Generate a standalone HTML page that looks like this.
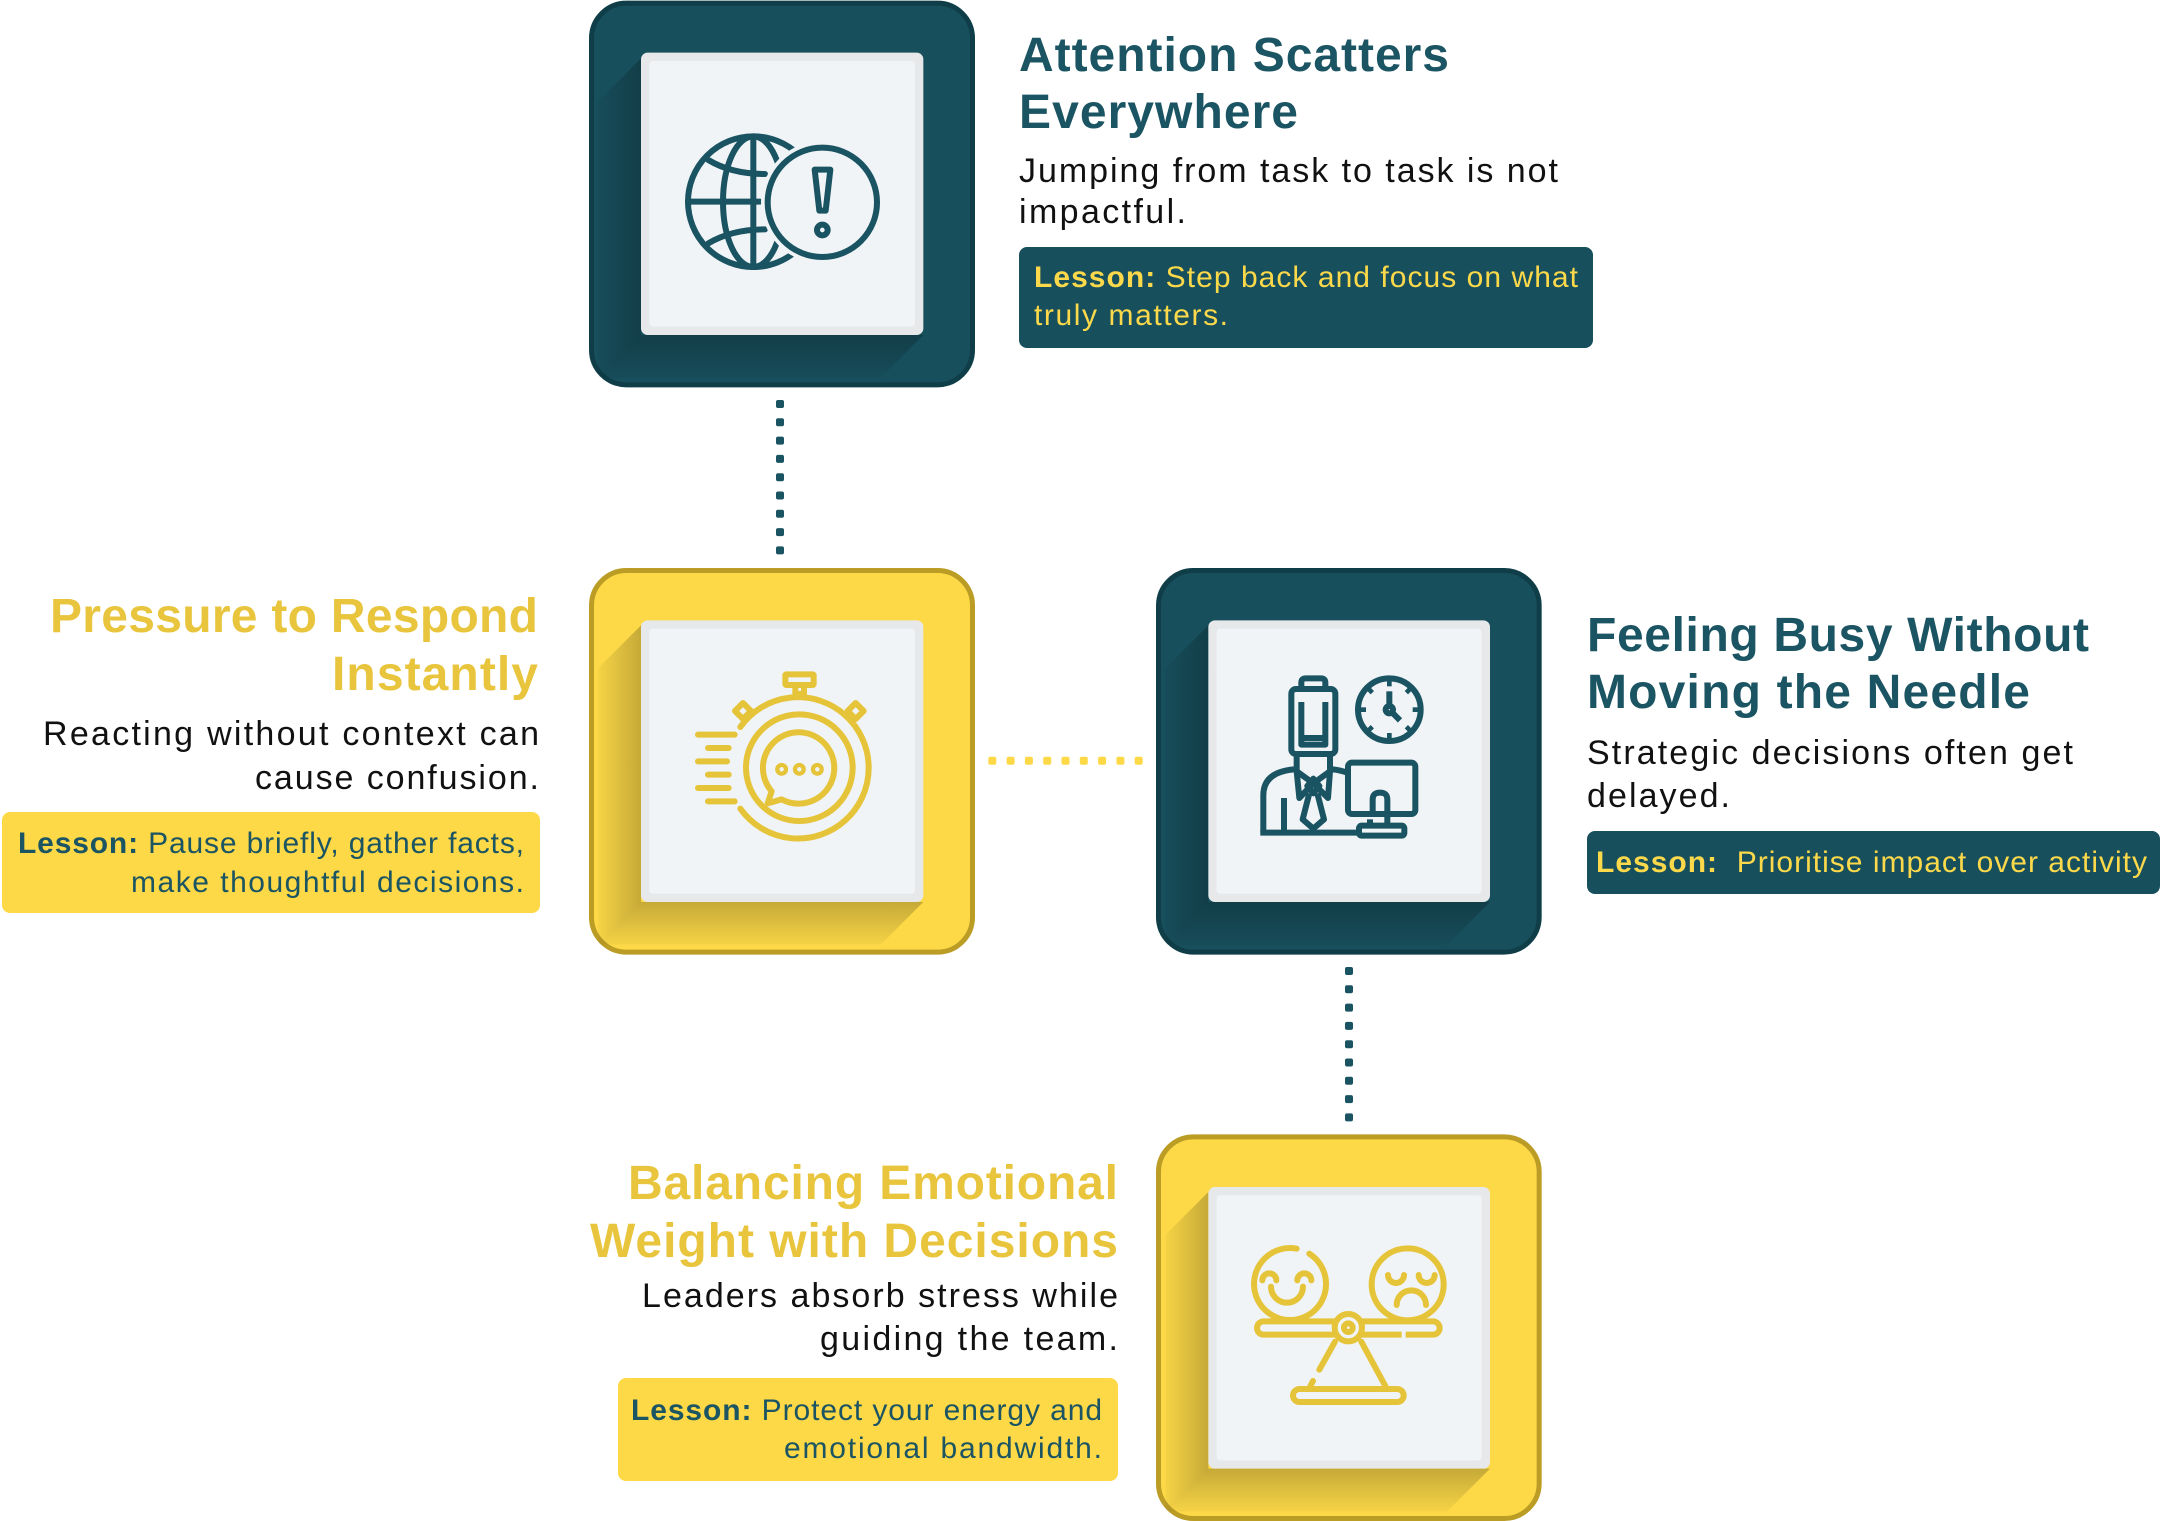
<!DOCTYPE html>
<html>
<head>
<meta charset="utf-8">
<style>
  html, body { margin:0; padding:0; background:#ffffff; }
  body { width:2162px; height:1521px; overflow:hidden; position:relative; }
  svg { display:block; }
</style>
</head>
<body>
<svg xmlns="http://www.w3.org/2000/svg" width="2162" height="1521" viewBox="0 0 2162 1521">
  <defs>
    <linearGradient id="gL" x1="0" y1="0" x2="1" y2="0">
      <stop offset="0" stop-color="#000" stop-opacity="0.03"/>
      <stop offset="1" stop-color="#000" stop-opacity="0.22"/>
    </linearGradient>
    <linearGradient id="gB" x1="0" y1="0" x2="0" y2="1">
      <stop offset="0" stop-color="#000" stop-opacity="0.22"/>
      <stop offset="1" stop-color="#000" stop-opacity="0.03"/>
    </linearGradient>
  </defs>
  <rect x="0" y="0" width="2162" height="1521" fill="#ffffff"/>

  <!-- ===== Connectors ===== -->
  <g fill="#1a5361">
    <rect x="776" y="400" width="8" height="8" rx="2"/>
    <rect x="776" y="418.3" width="8" height="8" rx="2"/>
    <rect x="776" y="436.6" width="8" height="8" rx="2"/>
    <rect x="776" y="454.9" width="8" height="8" rx="2"/>
    <rect x="776" y="473.2" width="8" height="8" rx="2"/>
    <rect x="776" y="491.5" width="8" height="8" rx="2"/>
    <rect x="776" y="509.8" width="8" height="8" rx="2"/>
    <rect x="776" y="528.1" width="8" height="8" rx="2"/>
    <rect x="776" y="546.4" width="8" height="8" rx="2"/>

    <rect x="1345" y="967" width="8" height="8" rx="2"/>
    <rect x="1345" y="985.3" width="8" height="8" rx="2"/>
    <rect x="1345" y="1003.6" width="8" height="8" rx="2"/>
    <rect x="1345" y="1021.9" width="8" height="8" rx="2"/>
    <rect x="1345" y="1040.2" width="8" height="8" rx="2"/>
    <rect x="1345" y="1058.5" width="8" height="8" rx="2"/>
    <rect x="1345" y="1076.8" width="8" height="8" rx="2"/>
    <rect x="1345" y="1095.1" width="8" height="8" rx="2"/>
    <rect x="1345" y="1113.4" width="8" height="8" rx="2"/>
  </g>
  <g fill="#fdd947">
    <rect x="988.3" y="756.7" width="8" height="8" rx="2"/>
    <rect x="1006.6" y="756.7" width="8" height="8" rx="2"/>
    <rect x="1024.9" y="756.7" width="8" height="8" rx="2"/>
    <rect x="1043.2" y="756.7" width="8" height="8" rx="2"/>
    <rect x="1061.5" y="756.7" width="8" height="8" rx="2"/>
    <rect x="1079.8" y="756.7" width="8" height="8" rx="2"/>
    <rect x="1098.1" y="756.7" width="8" height="8" rx="2"/>
    <rect x="1116.4" y="756.7" width="8" height="8" rx="2"/>
    <rect x="1134.7" y="756.7" width="8" height="8" rx="2"/>
  </g>

  <!-- ===== Box 1 : Globe (teal) ===== -->
  <svg x="585" y="0" width="400" height="400" viewBox="0 0 1200 1200">
    <rect x="19.5" y="9.5" width="1143" height="1145" rx="105" fill="#174f5c" stroke="#0f3e48" stroke-width="15"/>
    <polygon points="168,175 40,303 40,1133 168,1005" fill="url(#gL)"/>
    <polygon points="168,1005 40,1133 887,1133 1015,1005" fill="url(#gB)"/>
    <rect x="168" y="158" width="847" height="847" rx="20" fill="#e6e8ea"/>
    <rect x="193" y="183" width="797" height="797" rx="10" fill="#f0f4f7"/>
    <g fill="none" stroke="#1a5361" stroke-width="18" stroke-linecap="round" stroke-linejoin="round">
      <circle cx="505" cy="605" r="196"/>
      <ellipse cx="505" cy="605" rx="91" ry="196"/>
      <line x1="505" y1="409" x2="505" y2="801"/>
      <line x1="309" y1="605" x2="525" y2="605"/>
      <path d="M370,480 Q440,522 540,522"/>
      <path d="M370,730 Q440,688 540,688"/>
      <circle cx="712" cy="607" r="164" fill="#f0f4f7" stroke="#f0f4f7" stroke-width="40"/>
      <circle cx="712" cy="607" r="164"/>
      <polygon points="689,509 736,509 722,632 703,632"/>
      <circle cx="712" cy="690" r="16"/>
    </g>
  </svg>

  <!-- ===== Box 2 : Stopwatch (yellow) ===== -->
  <svg x="585" y="562" width="400" height="400" viewBox="0 0 1200 1200">
    <rect x="19.5" y="25.5" width="1143" height="1145" rx="105" fill="#fdd947" stroke="#bb9c25" stroke-width="15"/>
    <polygon points="168,190 40,318 40,1148 168,1020" fill="url(#gL)"/>
    <polygon points="168,1020 40,1148 887,1148 1015,1020" fill="url(#gB)"/>
    <rect x="168" y="175" width="847" height="845" rx="20" fill="#e6e8ea"/>
    <rect x="193" y="200" width="797" height="795" rx="10" fill="#f0f4f7"/>
    <g fill="none" stroke="#e6c43a" stroke-width="18" stroke-linecap="round" stroke-linejoin="round">
      <rect x="601" y="337" width="85" height="32" rx="3"/>
      <rect x="631" y="369" width="26" height="27"/>
      <path d="M466,495 A212,212 0 1 1 466,740"/>
      <circle cx="643" cy="617" r="160"/>
      <path d="M560,688 A107,107 0 1 1 590,712 L548,724 Z"/>
      <rect x="457" y="430" width="34" height="34" transform="rotate(45 474 447)"/>
      <rect x="795" y="430" width="34" height="34" transform="rotate(45 812 447)"/>
      <line x1="339" y1="518" x2="449" y2="518"/>
      <line x1="369" y1="558" x2="431" y2="558"/>
      <line x1="339" y1="598" x2="426" y2="598"/>
      <line x1="369" y1="638" x2="431" y2="638"/>
      <line x1="339" y1="678" x2="431" y2="678"/>
      <line x1="369" y1="718" x2="449" y2="718"/>
    </g>
    <g fill="none" stroke="#e6c43a" stroke-width="13">
      <circle cx="590" cy="622" r="13"/>
      <circle cx="643" cy="622" r="13"/>
      <circle cx="697" cy="622" r="13"/>
    </g>
  </svg>

  <!-- ===== Box 3 : Person (teal) ===== -->
  <svg x="1150" y="562" width="400" height="400" viewBox="0 0 1200 1200">
    <rect x="25.5" y="25.5" width="1142" height="1145" rx="105" fill="#174f5c" stroke="#0f3e48" stroke-width="15"/>
    <polygon points="175,190 47,318 47,1148 175,1020" fill="url(#gL)"/>
    <polygon points="175,1020 47,1148 892,1148 1020,1020" fill="url(#gB)"/>
    <rect x="175" y="175" width="845" height="845" rx="20" fill="#e6e8ea"/>
    <rect x="200" y="200" width="795" height="795" rx="10" fill="#f0f4f7"/>
    <g fill="none" stroke="#1a5361" stroke-width="18" stroke-linejoin="round">
      <rect x="424" y="381" width="132" height="195" rx="14"/>
      <path d="M454,381 V362 Q454,349 467,349 H513 Q526,349 526,362 V381"/>
      <path d="M454,420 V548 H526 V420"/>
      <line x1="454" y1="528" x2="526" y2="528"/>
      <path d="M440,576 V628 L448,708 L490,664"/>
      <path d="M540,576 V628 L534,708 L490,664"/>
      <path d="M440,628 L490,664 L540,628"/>
      <path d="M490,650 L508,672 L490,694 L472,672 Z"/>
      <path d="M478,694 L458,772 L490,800 L522,772 L502,694"/>
      <path d="M340,812 V700 Q340,630 432,622"/>
      <path d="M548,622 Q570,624 592,632"/>
      <line x1="402" y1="708" x2="402" y2="805"/>
      <line x1="331" y1="812" x2="622" y2="812"/>
      <rect x="594" y="602" width="202" height="154" rx="12" fill="#f0f4f7"/>
      <path d="M668,756 V712 Q668,692 690,692 Q712,692 712,712 V790"/>
      <line x1="660" y1="772" x2="660" y2="790"/>
      <rect x="627" y="791" width="136" height="30" rx="8"/>
      <circle cx="718" cy="443" r="94"/>
      <path d="M718,388 V432"/>
      <path d="M727,452 L750,475"/>
      <circle cx="718" cy="443" r="11"/>
    </g>
    <g stroke="#1a5361" stroke-width="14">
      <line x1="718" y1="357" x2="718" y2="373"/>
      <line x1="718" y1="513" x2="718" y2="529"/>
      <line x1="632" y1="443" x2="648" y2="443"/>
      <line x1="788" y1="443" x2="804" y2="443"/>
      <line x1="667" y1="392" x2="657" y2="382"/>
      <line x1="769" y1="392" x2="779" y2="382"/>
      <line x1="667" y1="494" x2="657" y2="504"/>
      <line x1="769" y1="494" x2="779" y2="504"/>
    </g>
  </svg>

  <!-- ===== Box 4 : Scale (yellow) ===== -->
  <svg x="1150" y="1121" width="400" height="400" viewBox="0 0 1200 1200">
    <rect x="25.5" y="47.5" width="1142" height="1145" rx="105" fill="#fdd947" stroke="#bb9c25" stroke-width="15"/>
    <polygon points="175,213 47,341 47,1171 175,1043" fill="url(#gL)"/>
    <polygon points="175,1043 47,1171 892,1171 1020,1043" fill="url(#gB)"/>
    <rect x="175" y="198" width="845" height="845" rx="20" fill="#e6e8ea"/>
    <rect x="200" y="223" width="795" height="795" rx="10" fill="#f0f4f7"/>
    <g fill="none" stroke="#e6c43a" stroke-width="18" stroke-linecap="round" stroke-linejoin="round">
      <path d="M440,383 A108,108 0 1 0 478,398"/>
      <path d="M337,478 A21,21 0 0 1 379,478"/>
      <path d="M442,478 A21,21 0 0 1 484,478"/>
      <path d="M363,497 A48,48 0 0 0 459,497"/>
      <circle cx="773" cy="490" r="108"/>
      <path d="M714,462 A24,24 0 0 0 762,462"/>
      <path d="M806,462 A24,24 0 0 0 854,462"/>
      <path d="M740,552 A44,44 0 0 1 828,552"/>
      <rect x="321" y="601" width="548" height="40" rx="20" fill="#f0f4f7"/>
      <line x1="755" y1="641" x2="767" y2="641" stroke="#f0f4f7" stroke-width="22" stroke-linecap="butt"/>
      <circle cx="595" cy="620" r="41" fill="#f0f4f7"/>
      <circle cx="595" cy="620" r="13"/>
      <path d="M555,662 L508,746"/>
      <path d="M489,780 L481,795"/>
      <path d="M634,662 L706,795"/>
      <rect x="429" y="804" width="332" height="39" rx="19.5"/>
    </g>
  </svg>

  <!-- ===== Texts ===== -->
  <g font-family="'Liberation Sans', Arial, sans-serif">
    <!-- Block 1 -->
    <text x="1019" y="71" font-size="48" font-weight="700" fill="#1b5462" textLength="430" lengthAdjust="spacing">Attention Scatters</text>
    <text x="1019" y="128" font-size="48" font-weight="700" fill="#1b5462" textLength="279" lengthAdjust="spacing">Everywhere</text>
    <text x="1019" y="182" font-size="34" fill="#111111" textLength="539" lengthAdjust="spacing">Jumping from task to task is not</text>
    <text x="1019" y="223" font-size="34" fill="#111111" textLength="167" lengthAdjust="spacing">impactful.</text>
    <rect x="1019" y="247" width="574" height="101" rx="8" fill="#174f5c"/>
    <text x="1034" y="287" font-size="30" fill="#fcd94a" textLength="544" lengthAdjust="spacing"><tspan font-weight="700">Lesson:</tspan> Step back and focus on what</text>
    <text x="1034" y="325" font-size="30" fill="#fcd94a" textLength="194" lengthAdjust="spacing">truly matters.</text>

    <!-- Block 2 -->
    <text x="538" y="632" text-anchor="end" font-size="48" font-weight="700" fill="#e8c53c" textLength="488" lengthAdjust="spacing">Pressure to Respond</text>
    <text x="538" y="690" text-anchor="end" font-size="48" font-weight="700" fill="#e8c53c" textLength="206" lengthAdjust="spacing">Instantly</text>
    <text x="539" y="745" text-anchor="end" font-size="34" fill="#111111" textLength="496" lengthAdjust="spacing">Reacting without context can</text>
    <text x="539" y="789" text-anchor="end" font-size="34" fill="#111111" textLength="284" lengthAdjust="spacing">cause confusion.</text>
    <rect x="2" y="812" width="538" height="101" rx="8" fill="#fdd947"/>
    <text x="524" y="853" text-anchor="end" font-size="30" fill="#1b5462" textLength="506" lengthAdjust="spacing"><tspan font-weight="700">Lesson:</tspan> Pause briefly, gather facts,</text>
    <text x="524" y="892" text-anchor="end" font-size="30" fill="#1b5462" textLength="393" lengthAdjust="spacing">make thoughtful decisions.</text>

    <!-- Block 3 -->
    <text x="1587" y="651" font-size="48" font-weight="700" fill="#1b5462" textLength="502" lengthAdjust="spacing">Feeling Busy Without</text>
    <text x="1587" y="708" font-size="48" font-weight="700" fill="#1b5462" textLength="443" lengthAdjust="spacing">Moving the Needle</text>
    <text x="1587" y="764" font-size="34" fill="#111111" textLength="486" lengthAdjust="spacing">Strategic decisions often get</text>
    <text x="1587" y="807" font-size="34" fill="#111111" textLength="143" lengthAdjust="spacing">delayed.</text>
    <rect x="1587" y="831" width="573" height="63" rx="8" fill="#174f5c"/>
    <text x="1596" y="872" font-size="30" fill="#fcd94a" textLength="551" lengthAdjust="spacing"><tspan font-weight="700">Lesson:</tspan>&#160; Prioritise impact over activity</text>

    <!-- Block 4 -->
    <text x="1118" y="1199" text-anchor="end" font-size="48" font-weight="700" fill="#e8c53c" textLength="490" lengthAdjust="spacing">Balancing Emotional</text>
    <text x="1118" y="1257" text-anchor="end" font-size="48" font-weight="700" fill="#e8c53c" textLength="528" lengthAdjust="spacing">Weight with Decisions</text>
    <text x="1118" y="1307" text-anchor="end" font-size="34" fill="#111111" textLength="476" lengthAdjust="spacing">Leaders absorb stress while</text>
    <text x="1118" y="1350" text-anchor="end" font-size="34" fill="#111111" textLength="298" lengthAdjust="spacing">guiding the team.</text>
    <rect x="618" y="1378" width="500" height="103" rx="8" fill="#fdd947"/>
    <text x="1102" y="1420" text-anchor="end" font-size="30" fill="#1b5462" textLength="471" lengthAdjust="spacing"><tspan font-weight="700">Lesson:</tspan> Protect your energy and</text>
    <text x="1102" y="1458" text-anchor="end" font-size="30" fill="#1b5462" textLength="318" lengthAdjust="spacing">emotional bandwidth.</text>
  </g>
</svg>
</body>
</html>
